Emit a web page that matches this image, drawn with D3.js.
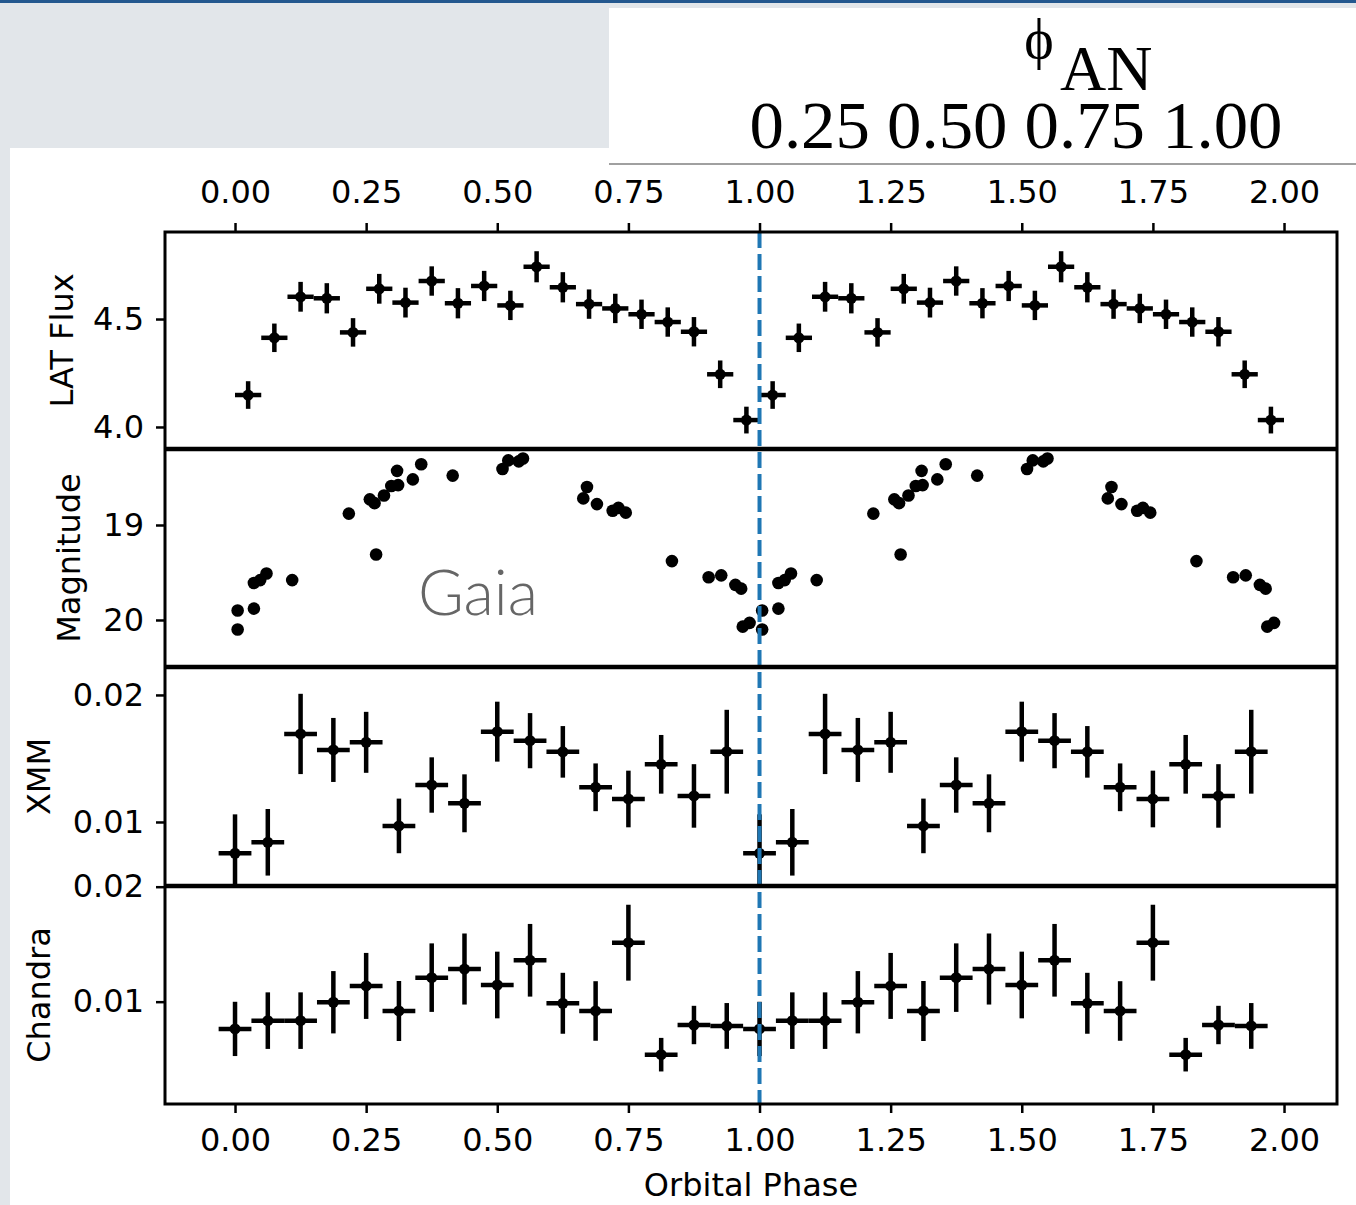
<!DOCTYPE html>
<html>
<head>
<meta charset="utf-8">
<script src="https://cdn.jsdelivr.net/npm/d3@7"></script>
<style>
  html, body { margin: 0; padding: 0; background: #e3e7eb; }
  svg { display: block; }
</style>
</head>
<body>
<svg id="chart" width="1356" height="1205"></svg>
<script>
// ---------------- DATA ----------------
const phaseTicks = [0, 0.25, 0.5, 0.75, 1.0, 1.25, 1.5, 1.75, 2.0];
const phaseTickLabels = ["0.00","0.25","0.50","0.75","1.00","1.25","1.50","1.75","2.00"];
const cycles = [0, 1];
const anTickLabels = "0.25 0.50 0.75 1.00";

// Fermi-LAT flux, 20 phase bins
const latPhase = [0.025,0.075,0.125,0.175,0.225,0.275,0.325,0.375,0.425,0.475,
                  0.525,0.575,0.625,0.675,0.725,0.775,0.825,0.875,0.925,0.975];
const latFlux  = [4.148,4.413,4.603,4.596,4.438,4.640,4.576,4.676,4.573,4.653,
                  4.563,4.742,4.647,4.569,4.549,4.522,4.486,4.441,4.244,4.032];
const latErr   = [0.064,0.066,0.069,0.070,0.066,0.069,0.069,0.068,0.070,0.070,
                  0.068,0.072,0.070,0.068,0.068,0.068,0.068,0.068,0.064,0.062];
const latPhaseHalfWidth = 0.025;
const latTicks = [4.0, 4.5];
const latTickLabels = ["4.0","4.5"];

// Gaia magnitudes
const gaiaPhase = [0.005,0.005,0.036,0.036,0.048,0.060,0.109,0.217,0.257,0.266,
                   0.269,0.284,0.298,0.311,0.309,0.339,0.355,0.415,0.510,0.521,
                   0.541,0.549,0.671,0.664,0.690,0.720,0.731,0.745,0.833,0.903,
                   0.927,0.954,0.965,0.968,0.981];
const gaiaMag   = [19.90,20.10,19.88,19.61,19.58,19.51,19.58,18.88,18.73,18.77,
                   19.31,18.69,18.59,18.58,18.43,18.52,18.36,18.48,18.41,18.32,
                   18.33,18.30,18.60,18.72,18.78,18.85,18.82,18.87,19.38,19.55,
                   19.53,19.63,19.67,20.07,20.03];
const gaiaTicks = [19, 20];
const gaiaTickLabels = ["19","20"];

// XMM, 16 phase bins
const xPhase = [0,0.0625,0.125,0.1875,0.25,0.3125,0.375,0.4375,
                0.5,0.5625,0.625,0.6875,0.75,0.8125,0.875,0.9375];
const xmmRate = [0.00753,0.00840,0.01693,0.01567,0.01627,0.00969,0.01291,0.01147,
                 0.01711,0.01640,0.01552,0.01273,0.01181,0.01454,0.01205,0.01553];
const xmmErr  = [0.00307,0.00262,0.00316,0.00252,0.00240,0.00215,0.00218,0.00228,
                 0.00236,0.00217,0.00203,0.00188,0.00223,0.00231,0.00250,0.00330];
const xHalfWidth = 0.03125;
const xmmTicks = [0.01, 0.02];
const xmmTickLabels = ["0.01","0.02"];

// Chandra, 16 phase bins
const chandraRate = [0.00763,0.00835,0.00835,0.00995,0.01137,0.00919,0.01209,0.01284,
                     0.01145,0.01360,0.00986,0.00919,0.01513,0.00539,0.00797,0.00789];
const chandraErr  = [0.00236,0.00246,0.00246,0.00271,0.00287,0.00261,0.00298,0.00309,
                     0.00290,0.00316,0.00265,0.00259,0.00330,0.00146,0.00167,0.00199];
const chandraTicks = [0.01, 0.02];
const chandraTickLabels = ["0.01","0.02"];

// ---------------- LAYOUT ----------------
const svg = d3.select("#chart");
const L = 165, R = 1337;
const FONT = "'DejaVu Sans', sans-serif";

// backgrounds
svg.append("rect").attr("x",0).attr("y",0).attr("width",1356).attr("height",1205).attr("fill","#e2e6ea");
svg.append("rect").attr("x",0).attr("y",0).attr("width",1356).attr("height",3).attr("fill","#24588f");
svg.append("rect").attr("x",10).attr("y",148).attr("width",1346).attr("height",1057).attr("fill","#ffffff");
svg.append("rect").attr("x",609).attr("y",8).attr("width",747).attr("height",156).attr("fill","#ffffff");
svg.append("line").attr("x1",609).attr("x2",1356).attr("y1",164).attr("y2",164)
   .attr("stroke","#a0a0a0").attr("stroke-width",2);

// phi_AN header
const hdr = svg.append("g").attr("font-family","'Liberation Serif', 'Times New Roman', serif").attr("fill","#000");
hdr.append("text").attr("x",1039).attr("y",58).attr("text-anchor","middle")
   .attr("font-size",56).text("\u03D5");
hdr.append("text").attr("x",1060).attr("y",90).attr("font-size",64).text("AN");
hdr.append("text").attr("x",1016).attr("y",148).attr("text-anchor","middle")
   .attr("font-size",68).attr("textLength",533).attr("lengthAdjust","spacingAndGlyphs").text(anTickLabels);

const x = d3.scaleLinear().domain([-0.1335, 2.101]).range([L, R]);

const panels = [
  {key:"lat", top:232, bottom:449, domain:[3.898, 4.903], label:"LAT Flux", labelX:73,
   ticks:latTicks, tickLabels:latTickLabels},
  {key:"gaia", top:449, bottom:667, domain:[18.2, 20.495], invert:true, label:"Magnitude", labelX:80,
   ticks:gaiaTicks, tickLabels:gaiaTickLabels},
  {key:"xmm", top:667, bottom:886, domain:[0.00496, 0.0222], label:"XMM", labelX:50,
   ticks:xmmTicks, tickLabels:xmmTickLabels},
  {key:"chandra", top:886, bottom:1104, domain:[0.0011, 0.02006], label:"Chandra", labelX:50,
   ticks:chandraTicks, tickLabels:chandraTickLabels}
];

panels.forEach((p, i) => {
  p.y = d3.scaleLinear().domain(p.domain)
        .range(p.invert ? [p.top, p.bottom] : [p.bottom, p.top]);
  svg.append("clipPath").attr("id","clip"+i)
     .append("rect").attr("x",L).attr("y",p.top).attr("width",R-L).attr("height",p.bottom-p.top);
  p.g = svg.append("g").attr("clip-path","url(#clip"+i+")");

  // y axis
  const ax = d3.axisLeft(p.y).tickValues(p.ticks)
      .tickFormat((d,j) => p.tickLabels[j]).tickSize(9).tickPadding(12).tickSizeOuter(0);
  const ga = svg.append("g").attr("transform",`translate(${L},0)`).call(ax);
  ga.select(".domain").remove();
  ga.selectAll(".tick line").attr("stroke","#000").attr("stroke-width",2.5);
  ga.selectAll(".tick text").attr("font-family",FONT).attr("font-size",32).attr("fill","#000");

  // y label
  const cy = (p.top + p.bottom) / 2;
  svg.append("text").attr("transform",`translate(${p.labelX},${cy}) rotate(-90)`)
     .attr("text-anchor","middle").attr("font-family",FONT).attr("font-size",32)
     .attr("fill","#000").text(p.label);
});

// error bar helper
function errorbars(g, y, phases, vals, errs, halfW, r) {
  cycles.forEach(c => {
    phases.forEach((ph, k) => {
      const px = ph + c;
      g.append("line").attr("x1",x(px-halfW)).attr("x2",x(px+halfW))
        .attr("y1",y(vals[k])).attr("y2",y(vals[k]))
        .attr("stroke","#000").attr("stroke-width",4.5);
      g.append("line").attr("x1",x(px)).attr("x2",x(px))
        .attr("y1",y(vals[k]-errs[k])).attr("y2",y(vals[k]+errs[k]))
        .attr("stroke","#000").attr("stroke-width",4.5);
      g.append("circle").attr("cx",x(px)).attr("cy",y(vals[k])).attr("r",r).attr("fill","#000");
    });
  });
}

// LAT
errorbars(panels[0].g, panels[0].y, latPhase, latFlux, latErr, latPhaseHalfWidth, 5.5);

// Gaia
cycles.forEach(c => {
  panels[1].g.selectAll(null).data(gaiaPhase.map((ph,k)=>({ph:ph+c, m:gaiaMag[k]})))
    .enter().append("circle")
    .attr("cx", d => x(d.ph)).attr("cy", d => panels[1].y(d.m)).attr("r",6.3).attr("fill","#000");
});
svg.append("text").attr("x",418).attr("y",615).attr("font-family","Lato, 'Open Sans', sans-serif")
   .attr("font-weight",300).attr("font-size",64).attr("fill","#666666")
   .attr("textLength",120).attr("lengthAdjust","spacingAndGlyphs").text("Gaia");

// XMM & Chandra
errorbars(panels[2].g, panels[2].y, xPhase, xmmRate, xmmErr, xHalfWidth, 5.5);
errorbars(panels[3].g, panels[3].y, xPhase, chandraRate, chandraErr, xHalfWidth, 5.5);

// dashed line at phase 1
svg.append("line").attr("x1",x(1)).attr("x2",x(1)).attr("y1",232).attr("y2",1104)
   .attr("stroke","#1f77b4").attr("stroke-width",4).attr("stroke-dasharray","16,6");

// frames
svg.append("rect").attr("x",L).attr("y",232).attr("width",R-L).attr("height",1104-232)
   .attr("fill","none").attr("stroke","#000").attr("stroke-width",3);
[449, 667, 886].forEach(yy => {
  svg.append("line").attr("x1",L).attr("x2",R).attr("y1",yy).attr("y2",yy)
     .attr("stroke","#000").attr("stroke-width",4.5);
});

// top & bottom x axes
const fmt = (d,j) => phaseTickLabels[j];
const topAx = svg.append("g").attr("transform","translate(0,232)")
   .call(d3.axisTop(x).tickValues(phaseTicks).tickFormat(fmt).tickSize(9).tickPadding(20).tickSizeOuter(0));
const botAx = svg.append("g").attr("transform","translate(0,1104)")
   .call(d3.axisBottom(x).tickValues(phaseTicks).tickFormat(fmt).tickSize(9).tickPadding(15).tickSizeOuter(0));
[topAx, botAx].forEach(a => {
  a.select(".domain").remove();
  a.selectAll(".tick line").attr("stroke","#000").attr("stroke-width",2.5);
  a.selectAll(".tick text").attr("font-family",FONT).attr("font-size",32).attr("fill","#000");
});

svg.append("text").attr("x",751).attr("y",1196).attr("text-anchor","middle")
   .attr("font-family",FONT).attr("font-size",32).attr("fill","#000").text("Orbital Phase");
</script>
</body>
</html>
